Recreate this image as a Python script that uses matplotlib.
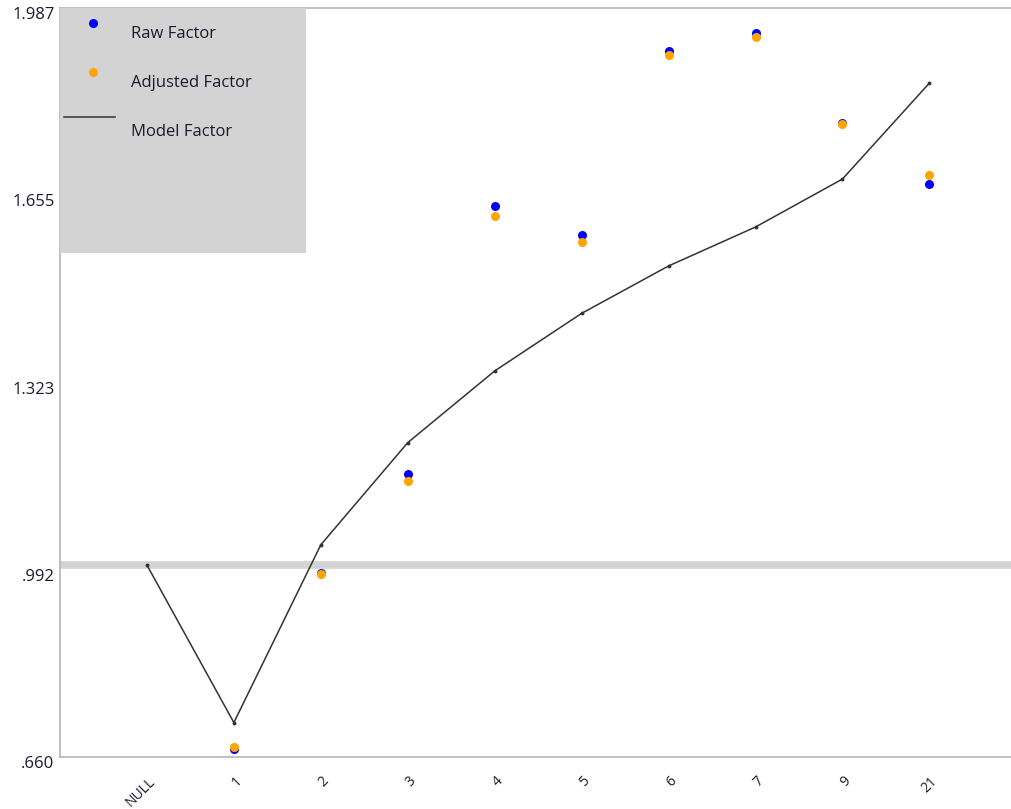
import matplotlib
matplotlib.use('Agg')
import matplotlib.pyplot as plt
from matplotlib.patches import Rectangle
from matplotlib.lines import Line2D
from matplotlib.transforms import ScaledTranslation

plt.rcParams['font.family'] = ['Open Sans', 'DejaVu Sans']

categories = ['NULL', '1', '2', '3', '4', '5', '6', '7', '9', '21']
model_factor = [1.000, 0.721, 1.036, 1.217, 1.344, 1.446, 1.530, 1.599, 1.684, 1.854]
# no raw / adjusted value for the NULL level
raw_factor = [None, 0.675, 0.986, 1.161, 1.637, 1.585, 1.911, 1.943, 1.784, 1.675]
adjusted_factor = [None, 0.677, 0.985, 1.149, 1.618, 1.572, 1.904, 1.935, 1.781, 1.691]
y_ticks = [0.660, 0.99175, 1.3235, 1.65525, 1.987]
y_tick_labels = ['.660', '.992', '1.323', '1.655', '1.987']
base_level = 1.0

TEXT = '#1a1a2e'

fig = plt.figure(figsize=(10.12, 8.09), dpi=100)
ax = fig.add_axes([60 / 1012, 52 / 809, 952 / 1012, 749 / 809])

x = list(range(len(categories)))

# reference band at factor 1.0
ax.axhline(base_level, color='#d3d3d3', lw=5.5, zorder=1)

ax.plot(x, model_factor, color='#333333', lw=1.1, marker='o', ms=1.8,
        zorder=2)

rx = [i for i, v in zip(x, raw_factor) if v is not None]
ry = [v for v in raw_factor if v is not None]
adj_x = [i for i, v in zip(x, adjusted_factor) if v is not None]
adj_y = [v for v in adjusted_factor if v is not None]
ax.plot(rx, ry, 'o', color='#0000ff', ms=6.5, mec='none', zorder=3)
ax.plot(adj_x, adj_y, 'o', color='#ffa500', ms=6.5, mec='none', zorder=4)

ax.set_xlim(-1, 9.95)
ax.set_ylim(0.660, 1.987)

ax.set_yticks(y_ticks)
ax.set_yticklabels(y_tick_labels)
ax.set_xticks(x)
ax.set_xticklabels(categories, rotation=45, ha='right', va='center',
                   rotation_mode='anchor')
ax.tick_params(axis='y', length=0, pad=4, labelsize=12, labelcolor=TEXT)
ax.tick_params(axis='x', length=0, pad=16, labelsize=10, labelcolor=TEXT)
# y labels sit a few pixels below their tick values
shift_down = ScaledTranslation(0, -5 / 100, fig.dpi_scale_trans)
for lbl in ax.get_yticklabels():
    lbl.set_transform(lbl.get_transform() + shift_down)
shift_right = ScaledTranslation(6 / 100, 0, fig.dpi_scale_trans)
for lbl in ax.get_xticklabels():
    lbl.set_transform(lbl.get_transform() + shift_right)

for side in ['left', 'top', 'bottom']:
    ax.spines[side].set_color('#b5b5b5')
    ax.spines[side].set_linewidth(1.2)
ax.spines['right'].set_visible(False)

# legend panel drawn in axes coordinates
W, H = 952, 749
def ax_xy(px, py):
    return (px - 60) / W, 1 - (py - 8) / H

x0, y0 = ax_xy(60, 253)
x1, y1 = ax_xy(306, 8)
ax.add_patch(Rectangle((x0, y0), x1 - x0, y1 - y0, transform=ax.transAxes,
                       facecolor='#d3d3d3', edgecolor='none', zorder=5))
mx, my = ax_xy(93, 23)
ax.plot([mx], [my], 'o', color='#0000ff', ms=6.5, mec='none',
        transform=ax.transAxes, zorder=6)
mx, my = ax_xy(93, 72)
ax.plot([mx], [my], 'o', color='#ffa500', ms=6.5, mec='none',
        transform=ax.transAxes, zorder=6)
lx0, ly = ax_xy(64, 117)
lx1, _ = ax_xy(115, 117)
ax.add_line(Line2D([lx0, lx1], [ly, ly], color='#333333', lw=1.1,
                   transform=ax.transAxes, zorder=6))
for label, py in [('Raw Factor', 34), ('Adjusted Factor', 83), ('Model Factor', 132)]:
    tx, ty = ax_xy(131, py)
    ax.text(tx, ty, label, transform=ax.transAxes, fontsize=12,
            color=TEXT, va='center', ha='left', zorder=7)

fig.savefig('out.png', dpi=100)
